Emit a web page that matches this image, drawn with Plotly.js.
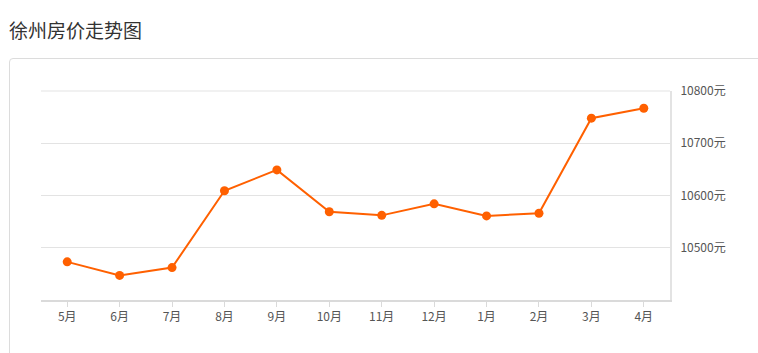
<!DOCTYPE html>
<html>
<head>
<meta charset="utf-8">
<script src="https://cdn.plot.ly/plotly-3.0.1.min.js"></script>
<style>
html,body{margin:0;padding:0;background:#fff;overflow:hidden;}
#frame{position:absolute;left:9px;top:58px;width:820px;height:400px;border:1px solid #dcdcdc;border-radius:4px;box-sizing:border-box;}
#chart{position:absolute;left:0;top:0;width:758px;height:353px;}
</style>
</head>
<body>
<div id="frame"></div>
<div id="chart"></div>
<script>
const months = ['5月','6月','7月','8月','9月','10月','11月','12月','1月','2月','3月','4月'];
const prices = [10473, 10447, 10462, 10609, 10649, 10569, 10562, 10584, 10561, 10566, 10748, 10767];
const yTicks = [10500, 10600, 10700, 10800];
const yTickLabels = ['10500元','10600元','10700元','10800元'];
const chartTitle = '徐州房价走势图';

const FONT = '"Microsoft YaHei","Noto Sans CJK SC","Noto Sans",sans-serif';

const trace = {
  x: months,
  y: prices,
  type: 'scatter',
  mode: 'lines+markers',
  line: {color: '#ff6000', width: 2},
  marker: {color: '#ff6000', size: 9},
  hoverinfo: 'x+y'
};

const layout = {
  width: 758,
  height: 353,
  margin: {l: 41, r: 88, t: 91, b: 53},
  paper_bgcolor: 'rgba(0,0,0,0)',
  plot_bgcolor: 'rgba(0,0,0,0)',
  showlegend: false,
  font: {family: FONT, size: 12, color: '#555'},
  title: {
    text: chartTitle,
    x: 9/758, xanchor: 'left', xref: 'container',
    y: 1 - 31/353, yanchor: 'middle', yref: 'container',
    font: {family: FONT, size: 19, color: '#333'}
  },
  shapes: [{
    type: 'line', xref: 'paper', yref: 'paper',
    x0: 0, x1: 1, y0: 1, y1: 1,
    line: {color: '#e3e3e3', width: 1},
    layer: 'below'
  }],
  xaxis: {
    type: 'category',
    range: [-0.5, 11.5],
    showgrid: false,
    zeroline: false,
    showline: true,
    linecolor: '#dadada',
    linewidth: 2,
    ticks: 'outside',
    ticklen: 5,
    tickcolor: '#dadada',
    tickwidth: 1,
    tickfont: {family: FONT, size: 12, color: '#555'}
  },
  yaxis: {
    side: 'right',
    range: [10400, 10800],
    tickvals: yTicks,
    ticktext: yTickLabels,
    showgrid: true,
    gridcolor: '#e3e3e3',
    gridwidth: 1,
    zeroline: false,
    showline: true,
    linecolor: '#e3e3e3',
    linewidth: 2,
    ticks: '',
    ticklabelstandoff: 6,
    tickfont: {family: FONT, size: 12, color: '#555'}
  }
};

Plotly.newPlot('chart', [trace], layout, {displayModeBar: false, staticPlot: true});
</script>
</body>
</html>
